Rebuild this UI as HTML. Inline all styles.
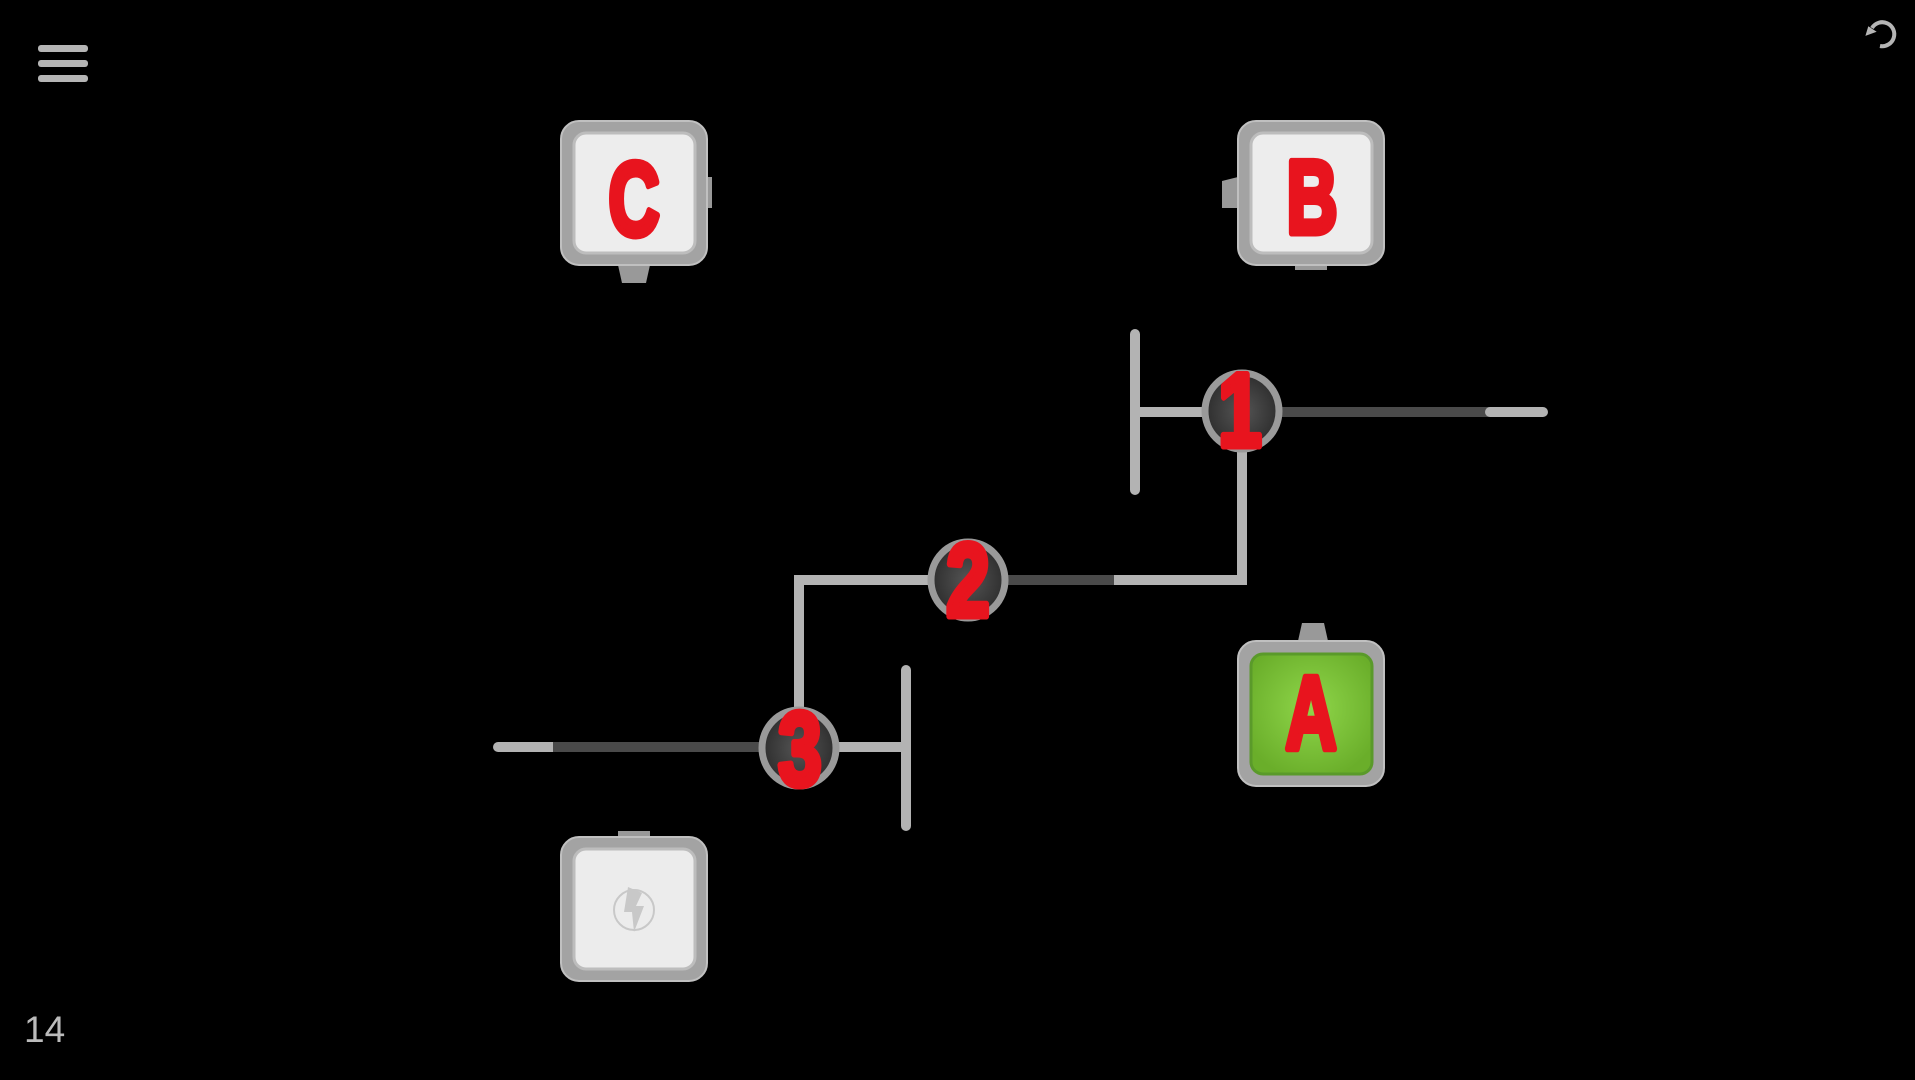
<!DOCTYPE html>
<html><head><meta charset="utf-8"><style>
html,body{margin:0;padding:0;background:#000;width:1915px;height:1080px;overflow:hidden}
svg{display:block}
.lt{font-family:"Liberation Sans",sans-serif;font-weight:bold;fill:#e8141e;stroke:#e8141e;stroke-width:7;stroke-linejoin:round}
</style></head><body>
<svg width="1915" height="1080" viewBox="0 0 1915 1080" xmlns="http://www.w3.org/2000/svg">
<defs>
<radialGradient id="nd" cx="50%" cy="50%" r="50%"><stop offset="0" stop-color="#555"/><stop offset="1" stop-color="#2e2e2e"/></radialGradient>
<radialGradient id="gr" cx="50%" cy="45%" r="60%"><stop offset="0" stop-color="#8fd64a"/><stop offset="1" stop-color="#6aae2a"/></radialGradient>
</defs>
<g fill="#b5b5b5"><rect x="38" y="45" width="50" height="7" rx="3"/><rect x="38" y="60" width="50" height="7" rx="3"/><rect x="38" y="75" width="50" height="7" rx="3"/></g>
<path d="M1872 28 A12 12 0 1 1 1880 46" fill="none" stroke="#b5b5b5" stroke-width="4"/>
<polygon points="1864,34 1876,34 1870,26" fill="#b5b5b5" transform="rotate(-20 1870 31)"/>
<text x="24" y="1042" font-family="Liberation Sans,sans-serif" font-size="37" fill="#bbb">14</text>

<g stroke-linecap="round" stroke-width="10" fill="none">
<line x1="1135" y1="334" x2="1135" y2="490" stroke="#b3b3b3"/>
<line x1="1135" y1="412" x2="1205" y2="412" stroke="#b3b3b3"/>
<line x1="1280" y1="412" x2="1492" y2="412" stroke="#4a4a4a" stroke-linecap="butt"/>
<line x1="1490" y1="412" x2="1543" y2="412" stroke="#b3b3b3"/>
<path d="M1242 450 V580 H1114" stroke="#b3b3b3" stroke-linecap="butt" stroke-linejoin="miter"/>
<line x1="1114" y1="580" x2="1005" y2="580" stroke="#4a4a4a" stroke-linecap="butt"/>
<path d="M930 580 H799 V712" stroke="#b3b3b3" stroke-linecap="butt" stroke-linejoin="miter"/>
<line x1="498" y1="747" x2="555" y2="747" stroke="#b3b3b3"/>
<line x1="553" y1="747" x2="762" y2="747" stroke="#4a4a4a" stroke-linecap="butt"/>
<line x1="836" y1="747" x2="906" y2="747" stroke="#b3b3b3"/>
<line x1="906" y1="670" x2="906" y2="826" stroke="#b3b3b3"/>
</g>
<g stroke="#9a9a9a" stroke-width="7" fill="url(#nd)">
<ellipse cx="1242" cy="411" rx="37" ry="38"/>
<ellipse cx="968" cy="580" rx="37" ry="38"/>
<ellipse cx="799" cy="748" rx="37" ry="38"/>
</g>
<text class="lt" font-size="104" transform="translate(1240 446) scale(0.75 1)" text-anchor="middle">1</text>
<text class="lt" font-size="104" transform="translate(968 616) scale(0.75 1)" text-anchor="middle">2</text>
<text class="lt" font-size="104" transform="translate(800 785) scale(0.75 1)" text-anchor="middle">3</text>

<g>
<path d="M618 265 h32 l-4 18 h-24 z" fill="#999"/>
<rect x="704" y="177" width="8" height="31" fill="#999"/>
<rect x="561" y="121" width="146" height="144" rx="18" fill="#a3a3a3" stroke="#c0c0c0" stroke-width="2"/>
<rect x="574" y="133" width="121" height="120" rx="12" fill="#ededed" stroke="#bdbdbd" stroke-width="3"/>
<text class="lt" font-size="104" transform="translate(634 235) scale(0.68 1)" text-anchor="middle">C</text>
<path d="M1238 177 v31 h-16 v-27 z" fill="#999"/>
<rect x="1295" y="260" width="32" height="10" fill="#999"/>
<rect x="1238" y="121" width="146" height="144" rx="18" fill="#a3a3a3" stroke="#c0c0c0" stroke-width="2"/>
<rect x="1251" y="133" width="121" height="120" rx="12" fill="#ededed" stroke="#bdbdbd" stroke-width="3"/>
<text class="lt" font-size="104" transform="translate(1312 233) scale(0.68 1)" text-anchor="middle">B</text>
<path d="M1298 641 l4 -18 h22 l4 18 z" fill="#999"/>
<rect x="1238" y="641" width="146" height="145" rx="18" fill="#a3a3a3" stroke="#c0c0c0" stroke-width="2"/>
<rect x="1251" y="654" width="121" height="120" rx="12" fill="url(#gr)" stroke="#5a9a2a" stroke-width="3"/>
<text class="lt" font-size="104" transform="translate(1311 749) scale(0.68 1)" text-anchor="middle">A</text>
<rect x="618" y="831" width="32" height="8" fill="#999"/>
<rect x="561" y="837" width="146" height="144" rx="18" fill="#a3a3a3" stroke="#c0c0c0" stroke-width="2"/>
<rect x="574" y="849" width="121" height="120" rx="12" fill="#ececec" stroke="#bdbdbd" stroke-width="3"/>
<circle cx="634" cy="910" r="20" fill="none" stroke="#c8c8c8" stroke-width="2"/>
<polygon points="628,887 642,893 636,906 644,906 634,932 632,912 624,912" fill="#c8c8c8"/>
</g>
</svg>
</body></html>
